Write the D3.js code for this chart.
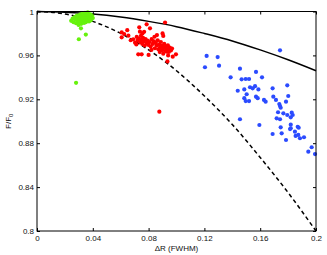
<!DOCTYPE html>
<html>
<head>
<meta charset="utf-8">
<script src="https://cdn.jsdelivr.net/npm/d3@7"></script>
<style>
  body { margin: 0; background: #fff; }
  text { font-family: "Liberation Sans", Arial, sans-serif; fill: #111; }
</style>
</head>
<body>
<svg id="chart" width="327" height="255"></svg>
<script>
// values
const xTicks = [0, 0.04, 0.08, 0.12, 0.16, 0.2];
const yTicks = [0.8, 0.84, 0.88, 0.92, 0.96, 1];

const curveX  = [0, 0.02, 0.04, 0.06, 0.08, 0.1, 0.12, 0.14, 0.16, 0.18, 0.2];
const solidF  = [1, 0.9994, 0.9978, 0.995, 0.991, 0.9862, 0.980, 0.9732, 0.965, 0.956, 0.946];
const dashedF = [1, 0.9978, 0.991, 0.980, 0.965, 0.946, 0.923, 0.897, 0.867, 0.835, 0.80];

const greenPts = [
  [0.0245,0.9915],[0.0255,0.9935],[0.0262,0.9902],[0.027,0.9948],[0.0275,0.9925],[0.028,0.9893],
  [0.0286,0.9962],[0.029,0.9938],[0.0294,0.9912],[0.0298,0.9878],[0.030,0.9955],[0.0304,0.9928],
  [0.0308,0.9972],[0.031,0.9905],[0.0314,0.9945],[0.0317,0.9888],[0.032,0.9965],[0.0322,0.9922],
  [0.0325,0.9985],[0.0328,0.9948],[0.033,0.9908],[0.0332,0.9935],[0.0335,0.9972],[0.0337,0.9895],
  [0.034,0.9955],[0.0342,0.9918],[0.0344,0.9988],[0.0346,0.994],[0.0348,0.9965],[0.035,0.9902],
  [0.0352,0.993],[0.0354,0.9978],[0.0356,0.995],[0.0358,0.9915],[0.036,0.9962],[0.0362,0.9938],
  [0.0364,0.9992],[0.0366,0.9925],[0.0368,0.997],[0.037,0.9948],[0.0373,0.991],[0.0376,0.9958],
  [0.038,0.9935],[0.0383,0.9975],[0.0386,0.992],[0.039,0.995],[0.0395,0.9965],[0.040,0.994],
  [0.0315,0.9847],[0.030,0.9747],[0.035,0.979],[0.028,0.935]
];

const redPts = [
  [0.0607,0.981],[0.0607,0.9765],[0.0647,0.983],[0.0655,0.978],[0.0733,0.9856],[0.0738,0.9816],
  [0.0786,0.9883],[0.081,0.9847],[0.0918,0.990],[0.090,0.980],[0.0905,0.9777],[0.069,0.9747],
  [0.0703,0.9716],[0.0726,0.961],[0.075,0.961],[0.080,0.9604],[0.0973,0.9588],[0.0996,0.961],
  [0.0953,0.965],[0.093,0.9634],[0.0877,0.9087],
  [0.0715,0.9768],[0.0722,0.9735],[0.073,0.9752],[0.074,0.972],[0.0745,0.9778],[0.075,0.9742],
  [0.0755,0.9705],[0.076,0.976],[0.0765,0.9728],[0.0772,0.969],[0.0778,0.9748],[0.0785,0.9712],
  [0.0792,0.9735],[0.080,0.9695],[0.0808,0.9722],[0.0815,0.968],[0.0822,0.9748],[0.083,0.9705],
  [0.0838,0.9728],[0.0845,0.9665],[0.0852,0.9712],[0.0858,0.969],[0.0865,0.9738],[0.087,0.9655],
  [0.0876,0.970],[0.0882,0.9675],[0.0888,0.9722],[0.0895,0.9648],[0.090,0.969],[0.0906,0.9665],
  [0.0912,0.9705],[0.0918,0.964],[0.0924,0.968],[0.093,0.966],[0.0938,0.9692],[0.0945,0.9632],
  [0.0952,0.9672],[0.096,0.9645],[0.0968,0.9662],[0.0756,0.980],[0.0768,0.9815],[0.0842,0.977],
  [0.086,0.9785],[0.0712,0.970],[0.082,0.965],[0.088,0.963],[0.0905,0.9615],[0.094,0.960],
  [0.0935,0.9545],[0.0625,0.9795],[0.0672,0.9738]
];

const bluePts = [
  [0.1216,0.9595],[0.1204,0.9492],[0.1295,0.9585],[0.1305,0.9506],[0.1388,0.940],[0.1455,0.9479],
  [0.1467,0.9382],[0.1496,0.9385],[0.152,0.9385],[0.157,0.9449],[0.1613,0.940],[0.1742,0.9646],
  [0.1486,0.929],[0.1439,0.9278],[0.1527,0.931],[0.1546,0.930],[0.1563,0.932],[0.1587,0.929],
  [0.1503,0.9246],[0.1486,0.921],[0.1496,0.9184],[0.152,0.9184],[0.157,0.9224],[0.1582,0.921],
  [0.1627,0.9194],[0.1639,0.9178],[0.1689,0.930],[0.1694,0.9224],[0.1713,0.9194],[0.1794,0.9327],
  [0.1801,0.923],[0.1785,0.9178],[0.1737,0.9157],[0.1742,0.9139],[0.1747,0.9123],[0.1728,0.9082],
  [0.1766,0.9072],[0.1794,0.9057],[0.1826,0.9078],[0.1833,0.9057],[0.1819,0.9036],[0.1718,0.9027],
  [0.1742,0.9018],[0.1455,0.9018],[0.1594,0.8966],[0.1747,0.8945],[0.1819,0.8969],[0.1819,0.8936],
  [0.1869,0.895],[0.1876,0.8941],[0.1689,0.8884],[0.1754,0.889],[0.1785,0.8829],[0.1814,0.8929],
  [0.1849,0.8905],[0.1873,0.8875],[0.1885,0.8845],[0.1854,0.8866],[0.1914,0.8854],[0.1945,0.8723],
  [0.1969,0.8763],[0.1993,0.8701]
];

const svg = d3.select("#chart");
const margin = {left: 37, top: 11.5, right: 11, bottom: 24};
const W = 327, H = 255;

const x = d3.scaleLinear().domain([0, 0.2]).range([margin.left, W - margin.right]);
const y = d3.scaleLinear().domain([0.8, 1]).range([H - margin.bottom, margin.top]);

const plot = svg.append("g");

// curves
const line = d3.line().x(d => x(d[0])).y(d => y(d[1])).curve(d3.curveMonotoneX);
plot.append("path")
    .datum(curveX.map((v, i) => [v, solidF[i]]))
    .attr("d", line)
    .attr("fill", "none").attr("stroke", "#000").attr("stroke-width", 1.5);
plot.append("path")
    .datum(curveX.map((v, i) => [v, dashedF[i]]))
    .attr("d", line)
    .attr("fill", "none").attr("stroke", "#000").attr("stroke-width", 1.5)
    .attr("stroke-dasharray", "4,3");

// scatter groups
const groups = [
  {pts: greenPts, color: "#66f20c"},
  {pts: redPts, color: "#ff0000"},
  {pts: bluePts, color: "#2b4bff"}
];
groups.forEach(g => {
  plot.append("g").selectAll("circle")
    .data(g.pts)
    .join("circle")
    .attr("cx", d => x(d[0]))
    .attr("cy", d => y(d[1]))
    .attr("r", 2.1)
    .attr("fill", g.color);
});

// axes, ticks pointing inwards on all four sides
const fmt = d => d3.format("~g")(d);
const styleAxis = sel => {
  sel.selectAll(".domain").remove();
  sel.selectAll("line").attr("stroke", "#000");
  sel.selectAll("text").attr("font-size", 8).attr("fill", "#111")
     .attr("font-family", "'Liberation Sans', Arial, sans-serif");
};

svg.append("g").attr("transform", `translate(0,${H - margin.bottom})`)
  .call(d3.axisBottom(x).tickValues(xTicks).tickFormat(fmt).tickSizeInner(-3).tickSizeOuter(0).tickPadding(4))
  .call(styleAxis);
svg.append("g").attr("transform", `translate(0,${margin.top})`)
  .call(d3.axisTop(x).tickValues(xTicks).tickFormat("").tickSizeInner(-3).tickSizeOuter(0))
  .call(styleAxis);
svg.append("g").attr("transform", `translate(${margin.left},0)`)
  .call(d3.axisLeft(y).tickValues(yTicks).tickFormat(fmt).tickSizeInner(-3).tickSizeOuter(0).tickPadding(3))
  .call(styleAxis);
svg.append("g").attr("transform", `translate(${W - margin.right},0)`)
  .call(d3.axisRight(y).tickValues(yTicks).tickFormat("").tickSizeInner(-3).tickSizeOuter(0))
  .call(styleAxis);

// box
svg.append("rect")
  .attr("x", margin.left).attr("y", margin.top)
  .attr("width", W - margin.right - margin.left)
  .attr("height", H - margin.bottom - margin.top)
  .attr("fill", "none").attr("stroke", "#000").attr("stroke-width", 1);

// axis labels
svg.append("text")
  .attr("x", (margin.left + W - margin.right) / 2).attr("y", 251)
  .attr("text-anchor", "middle").attr("font-size", 8)
  .text("ΔR (FWHM)");

const yl = svg.append("text")
  .attr("transform", `translate(11,${(margin.top + H - margin.bottom) / 2}) rotate(-90)`)
  .attr("text-anchor", "middle").attr("font-size", 8);
yl.append("tspan").text("F/F");
yl.append("tspan").attr("font-size", 6).attr("dy", 2).text("0");
</script>
</body>
</html>
